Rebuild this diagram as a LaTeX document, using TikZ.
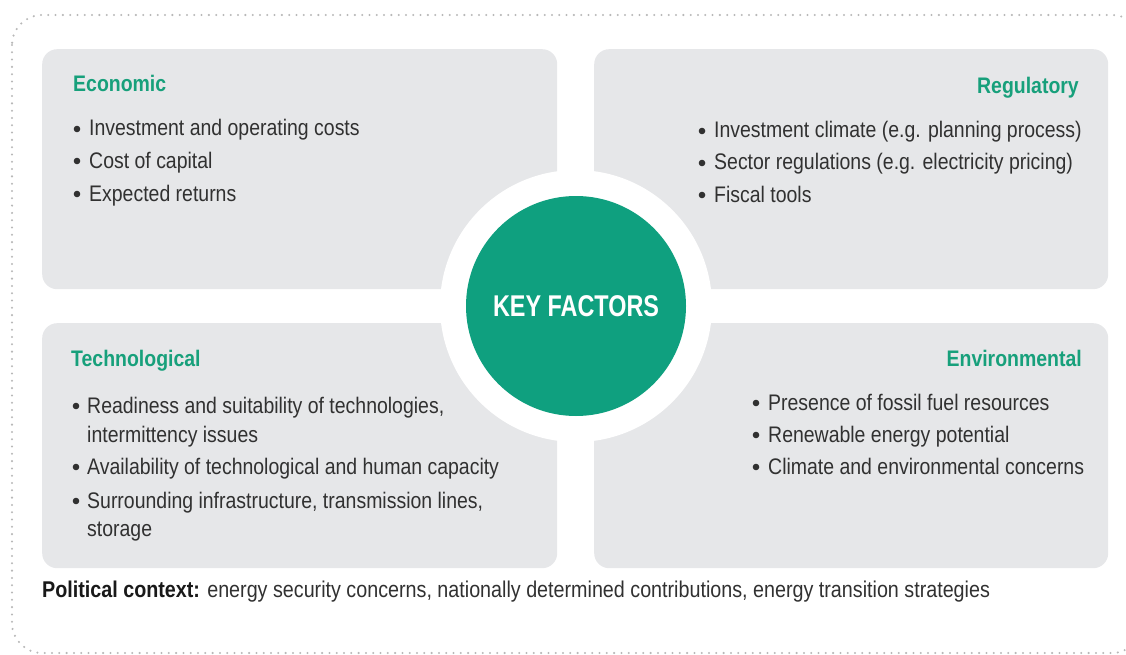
\documentclass[tikz,border=0pt]{standalone}
\usepackage{fontspec}
\setmainfont[FakeStretch=0.865]{Liberation Sans}
\newfontfamily\keyfont[FakeStretch=0.78]{Liberation Sans}
\definecolor{boxgray}{HTML}{E6E7E9}
\definecolor{keygreen}{HTML}{0FA07F}
\definecolor{titlegreen}{HTML}{17A07B}
\definecolor{textgray}{HTML}{313131}
\definecolor{dotgray}{HTML}{B8B8B8}
\tikzset{
  panel/.style={rectangle, fill=boxgray, rounded corners=15pt, inner sep=0pt, anchor=north west},
  ttl/.style={font=\fontsize{22.5}{29}\selectfont\bfseries, text=titlegreen, inner sep=0pt},
  itm/.style={font=\fontsize{22.5}{29}\selectfont, text=textgray, inner sep=0pt, anchor=base west},
  bul/.style={circle, fill=textgray, minimum size=6.6pt, inner sep=0pt},
  frame/.style={draw=dotgray, line width=2.3pt, line cap=round, dash pattern=on 0pt off 7.3pt},
}
\begin{document}
\begin{tikzpicture}[x=1pt,y=-1pt]
\useasboundingbox (0,0) rectangle (1126,655);
\draw[frame, rounded corners=30pt] (12,15) rectangle (1142,653);
% panels
\node[panel, minimum width=515pt, minimum height=240pt] (econ) at (42,49) {};
\node[panel, minimum width=514pt, minimum height=240pt] (reg) at (594,49) {};
\node[panel, minimum width=515pt, minimum height=245pt] (tech) at (42,323) {};
\node[panel, minimum width=514pt, minimum height=245pt] (env) at (594,323) {};
% central circle
\node[circle, fill=white, minimum size=272pt, inner sep=0pt] (ring) at (576,306) {};
\node[circle, fill=keygreen, minimum size=220pt, inner sep=0pt, text=white,
      font=\keyfont\fontsize{30}{34}\selectfont\bfseries] (key) at (576,306) {KEY FACTORS};
% Economic
\node[ttl, anchor=base west] (econt) at (73,92) {Economic};
\node[bul] (eb1) at (77,129) {};
\node[itm] (ei1) at (89,136) {Investment and operating costs};
\node[bul] (eb2) at (77,161) {};
\node[itm] (ei2) at (89,168) {Cost of capital};
\node[bul] (eb3) at (77,194) {};
\node[itm] (ei3) at (89,201) {Expected returns};
% Regulatory
\node[ttl, anchor=base east] (regt) at (1079,94) {Regulatory};
\node[bul] (rb1) at (702,131) {};
\node[itm] (ri1) at (714,138) {Investment climate (e.g. planning process)};
\node[bul] (rb2) at (702,163) {};
\node[itm] (ri2) at (714,170) {Sector regulations (e.g. electricity pricing)};
\node[bul] (rb3) at (702,195) {};
\node[itm] (ri3) at (714,202) {Fiscal tools};
% Technological
\node[ttl, anchor=base west] (techt) at (71,366) {Technological};
\node[bul] (tb1) at (76,406) {};
\node[itm] (ti1) at (87,413) {Readiness and suitability of technologies,};
\node[itm] (ti1b) at (87,442) {intermittency issues};
\node[bul] (tb2) at (76,467) {};
\node[itm] (ti2) at (87,474) {Availability of technological and human capacity};
\node[bul] (tb3) at (76,501) {};
\node[itm] (ti3) at (87,508) {Surrounding infrastructure, transmission lines,};
\node[itm] (ti3b) at (87,536) {storage};
% Environmental
\node[ttl, anchor=base east] (envt) at (1082,366) {Environmental};
\node[bul] (vb1) at (756,403) {};
\node[itm] (vi1) at (768,410) {Presence of fossil fuel resources};
\node[bul] (vb2) at (756,435) {};
\node[itm] (vi2) at (768,442) {Renewable energy potential};
\node[bul] (vb3) at (756,467) {};
\node[itm] (vi3) at (768,474) {Climate and environmental concerns};
% Political context
\node[itm, font=\fontsize{22.8}{29}\selectfont] (pol) at (42,597) {\textbf{\color{black!90}Political context:} energy security concerns, nationally determined contributions, energy transition strategies};
\end{tikzpicture}
\end{document}
